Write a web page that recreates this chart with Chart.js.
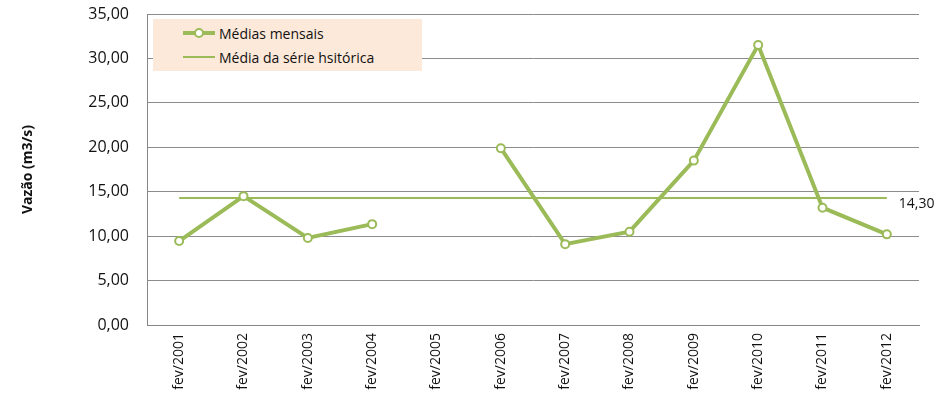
<!DOCTYPE html>
<html>
<head>
<meta charset="utf-8">
<script src="https://cdn.jsdelivr.net/npm/chart.js@4"></script>
<style>
  body { margin: 0; background: #fff; }
  #wrap { position: relative; width: 939px; height: 405px; }
  #legend {
    position: absolute; left: 153px; top: 19px; width: 269px; height: 52px;
    background: #FDE9D9; font-family: "Open Sans", sans-serif; font-size: 14px; color: #111;
  }
  .item { position: absolute; left: 30px; height: 20px; display: flex; align-items: center; }
  .sw { position: relative; width: 32px; height: 20px; margin-right: 4px; }
  .sw .ln { position: absolute; left: 0; right: 0; top: 50%; background: #9BBB59; }
  .sw .pt { position: absolute; left: 11px; top: 5px; width: 6px; height: 6px; border: 2px solid #9BBB59; border-radius: 50%; background: #fff; }
</style>
</head>
<body>
<div id="wrap">
  <canvas id="myChart" width="939" height="405"></canvas>
  <div id="legend">
    <div class="item" style="top:4px"><div class="sw"><div class="ln" style="height:4px;margin-top:-2px"></div><div class="pt"></div></div>Médias mensais</div>
    <div class="item" style="top:28px"><div class="sw"><div class="ln" style="height:2px;margin-top:-1px"></div></div>Média da série hsitórica</div>
  </div>
</div>
<script>
const labels = ['fev/2001', 'fev/2002', 'fev/2003', 'fev/2004', 'fev/2005', 'fev/2006',
  'fev/2007', 'fev/2008', 'fev/2009', 'fev/2010', 'fev/2011', 'fev/2012'];
const mediasMensais = [9.45, 14.5, 9.8, 11.35, null, 19.9, 9.1, 10.5, 18.5, 31.5, 13.2, 10.2];
const mediaHistorica = 14.30;

const fmt = v => v.toFixed(2).replace('.', ',');

// rótulo "14,30" ao final da linha da média
const avgLabel = {
  id: 'avgLabel',
  afterDatasetsDraw(chart) {
    const meta = chart.getDatasetMeta(1);
    const last = meta.data[meta.data.length - 1];
    const c = chart.ctx;
    c.save();
    c.font = '14px "Open Sans", sans-serif';
    c.fillStyle = '#111';
    c.textBaseline = 'middle';
    c.fillText(fmt(mediaHistorica), last.x + 12, last.y + 6);
    c.restore();
  }
};

const ctx = document.getElementById('myChart').getContext('2d');
const data = {
  labels: labels,
  datasets: [
    {
      label: 'Médias mensais',
      data: mediasMensais,
      borderColor: '#9BBB59',
      backgroundColor: '#fff',
      borderWidth: 4,
      pointRadius: 4,
      pointBorderWidth: 2,
      pointBackgroundColor: '#fff',
      pointBorderColor: '#9BBB59',
      spanGaps: false,
      tension: 0,
      order: 0,
    },
    {
      label: 'Média da série hsitórica',
      data: labels.map(() => mediaHistorica),
      borderColor: '#9BBB59',
      borderWidth: 2,
      pointRadius: 0,
      order: 1,
    },
  ],
};

const config = {
  type: 'line',
  data: data,
  plugins: [avgLabel],
  options: {
    responsive: false,
    animation: false,
    layout: { padding: { top: 14, right: 20, left: 0, bottom: 0 } },
    plugins: {
      legend: { display: false },
      tooltip: { enabled: false },
    },
    scales: {
      x: {
        offset: true,
        grid: { display: false, drawTicks: false, offset: true },
        border: { color: '#868686', width: 1 },
        ticks: {
          color: '#111',
          font: { family: 'Open Sans', size: 14 },
          minRotation: 90, maxRotation: 90, padding: 8,
        },
        afterFit: s => { s.height = 80; },
      },
      y: {
        min: 0, max: 35,
        grid: { color: '#8C8C8C', drawTicks: true, tickLength: 18, tickColor: 'rgba(0,0,0,0)' },
        border: { color: '#868686', width: 1 },
        ticks: {
          stepSize: 5, padding: 0, color: '#111',
          font: { family: 'Open Sans', size: 16 },
          callback: v => fmt(v),
        },
        title: {
          display: true, text: 'Vazão (m3/s)', color: '#111',
          font: { family: 'Open Sans', size: 14, weight: 'bold' },
          padding: { top: 20, bottom: 0 },
        },
        afterFit: s => { s.width = 147; },
      },
    },
  },
};

Chart.defaults.color = '#111';
const vazaoChart = new Chart(ctx, config);
</script>
</body>
</html>
